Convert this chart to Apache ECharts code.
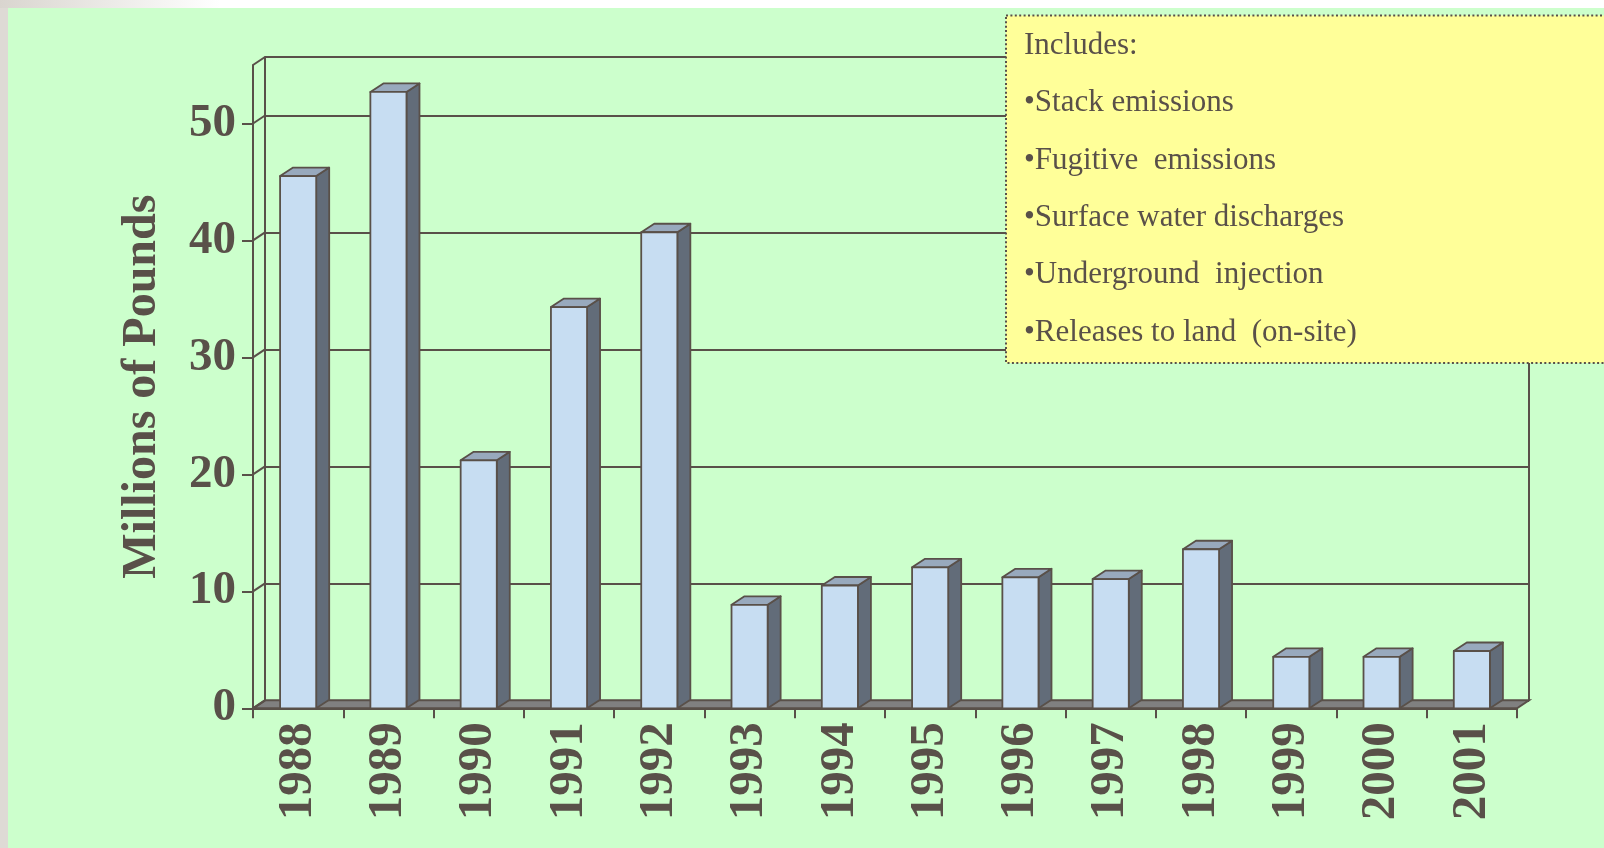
<!DOCTYPE html>
<html>
<head>
<meta charset="utf-8">
<script src="https://cdn.jsdelivr.net/npm/echarts@6/dist/echarts.min.js"></script>
<style>
  html, body { margin: 0; padding: 0; }
  body {
    width: 1604px; height: 848px; overflow: hidden;
    background:
      linear-gradient(to right, #d9d5cf, #ffffff 220px) top left / 100% 8px no-repeat,
      linear-gradient(#dedad5, #dedad5) top left / 8px 100% no-repeat,
      #ccffcc;
  }
  #chart { position: absolute; left: 0; top: 0; width: 1604px; height: 848px; }
</style>
</head>
<body>
<div id="chart"></div>
<script>
// ---- data ----
const years = ['1988','1989','1990','1991','1992','1993','1994','1995','1996','1997','1998','1999','2000','2001'];
const releases = [45.5, 52.7, 21.2, 34.3, 40.7, 8.85, 10.5, 12.05, 11.2, 11.05, 13.6, 4.4, 4.4, 4.9];
const yTicks = [0, 10, 20, 30, 40, 50];
const yMax = 55;
const axisTitle = 'Millions of Pounds';
const noteLines = ['Includes:', '•Stack emissions', '•Fugitive  emissions', '•Surface water discharges', '•Underground  injection', '•Releases to land  (on-site)'];

// ---- styling ----
const INK = '#595049';
const SERIF = '"Liberation Serif", "Times New Roman", serif';
const WALL_DX = 12, WALL_DY = 8;     // depth offset of back wall
const BAR_DX = 13, BAR_DY = 8.5;     // depth of bars

const chart = echarts.init(document.getElementById('chart'), null, { renderer: 'canvas' });

function leftEdge(api) {
  const bw = api.size([1, 0])[0];
  return api.coord([0, 0])[0] - bw / 2;
}
function rightEdge(api) {
  const bw = api.size([1, 0])[0];
  return api.coord([years.length - 1, 0])[0] + bw / 2;
}

const option = {
  backgroundColor: 'transparent',
  animation: false,
  grid: [
    { left: 253, top: 65, width: 1264, height: 643.3 },
    { left: 253 + WALL_DX, top: 65 - WALL_DY, width: 1264, height: 643.3 }
  ],
  xAxis: [
    {
      gridIndex: 0, type: 'category', data: years, boundaryGap: true,
      axisLine: { show: true, lineStyle: { color: INK, width: 2 } },
      axisTick: { show: true, length: 10, lineStyle: { color: INK, width: 2 } },
      axisLabel: { rotate: 90, margin: 14, color: INK, fontFamily: SERIF, fontWeight: 'bold', fontSize: 49 },
      splitLine: { show: false }
    },
    { gridIndex: 1, type: 'category', data: years, show: false }
  ],
  yAxis: [
    {
      gridIndex: 0, type: 'value', min: 0, max: yMax, interval: 10,
      axisLine: { show: true, lineStyle: { color: INK, width: 2 } },
      axisTick: { show: true, length: 11, customValues: yTicks, lineStyle: { color: INK, width: 2 } },
      axisLabel: {
        customValues: yTicks, margin: 17, color: INK, fontFamily: SERIF, fontWeight: 'bold', fontSize: 47,
        formatter: v => (yTicks.indexOf(v) >= 0 ? String(v) : '')
      },
      splitLine: { show: false },
      name: axisTitle, nameLocation: 'middle', nameRotate: 90, nameGap: 86,
      nameTextStyle: { color: INK, fontFamily: SERIF, fontWeight: 'bold', fontSize: 48 }
    },
    {
      gridIndex: 1, type: 'value', min: 0, max: yMax, interval: 10,
      axisLine: { show: true, lineStyle: { color: INK, width: 2 } },
      axisTick: { show: false }, axisLabel: { show: false },
      splitLine: { show: true, lineStyle: { color: INK, width: 2 } }
    },
    {
      gridIndex: 1, type: 'value', position: 'right', min: 0, max: yMax, interval: 10,
      axisLine: { show: true, lineStyle: { color: INK, width: 2 } },
      axisTick: { show: false }, axisLabel: { show: false }, splitLine: { show: false }
    }
  ],
  series: [
    {
      // floor
      type: 'custom', xAxisIndex: 0, yAxisIndex: 0, clip: false, z: 1, silent: true,
      data: [[0, 0]],
      renderItem: function (params, api) {
        const l = leftEdge(api), r = rightEdge(api);
        const y = api.coord([0, 0])[1];
        return {
          type: 'polygon',
          shape: { points: [[l, y], [r, y], [r + WALL_DX, y - WALL_DY], [l + WALL_DX, y - WALL_DY]] },
          style: { fill: '#808080', stroke: INK, lineWidth: 2 }
        };
      }
    },
    {
      // left side-wall diagonals
      type: 'custom', xAxisIndex: 0, yAxisIndex: 0, clip: false, z: 1, silent: true,
      data: yTicks.concat([yMax]).map(v => [0, v]),
      renderItem: function (params, api) {
        const l = leftEdge(api);
        const y = api.coord([0, api.value(1)])[1];
        return {
          type: 'line',
          shape: { x1: l, y1: y, x2: l + WALL_DX, y2: y - WALL_DY },
          style: { stroke: INK, lineWidth: 2 }
        };
      }
    },
    {
      // 3D bars
      type: 'custom', xAxisIndex: 0, yAxisIndex: 0, clip: false, z: 3,
      data: releases.map((v, i) => [i, v]),
      encode: { x: 0, y: 1 },
      renderItem: function (params, api) {
        const i = api.value(0), v = api.value(1);
        const top = api.coord([i, v]);
        const base = api.coord([i, 0]);
        const w = api.size([1, 0])[0] * 0.4;
        const x0 = top[0] - w / 2, x1 = top[0] + w / 2;
        const yt = top[1], yb = base[1];
        const line = { stroke: INK, lineWidth: 1.8, lineJoin: 'round' };
        return {
          type: 'group',
          children: [
            { type: 'polygon', shape: { points: [[x1, yt], [x1 + BAR_DX, yt - BAR_DY], [x1 + BAR_DX, yb - BAR_DY], [x1, yb]] },
              style: Object.assign({ fill: '#626c79' }, line) },
            { type: 'polygon', shape: { points: [[x0, yt], [x0 + BAR_DX, yt - BAR_DY], [x1 + BAR_DX, yt - BAR_DY], [x1, yt]] },
              style: Object.assign({ fill: '#98a9bd' }, line) },
            { type: 'rect', shape: { x: x0, y: yt, width: w, height: yb - yt },
              style: Object.assign({ fill: '#c7ddf2' }, line) }
          ]
        };
      }
    }
  ],
  graphic: [
    {
      type: 'rect', z: 100, silent: true,
      shape: { x: 1006, y: 15.5, width: 620, height: 347.5 },
      style: { fill: '#ffff99', stroke: INK, lineWidth: 2, lineDash: [2, 2.4] }
    }
  ].concat(noteLines.map((t, k) => ({
    type: 'text', z: 101, silent: true,
    x: 1024, y: 46 + k * 57.3,
    style: { text: t, fill: INK, font: '31px ' + SERIF, verticalAlign: 'middle', align: 'left' }
  })))
};

chart.setOption(option);
</script>
</body>
</html>
